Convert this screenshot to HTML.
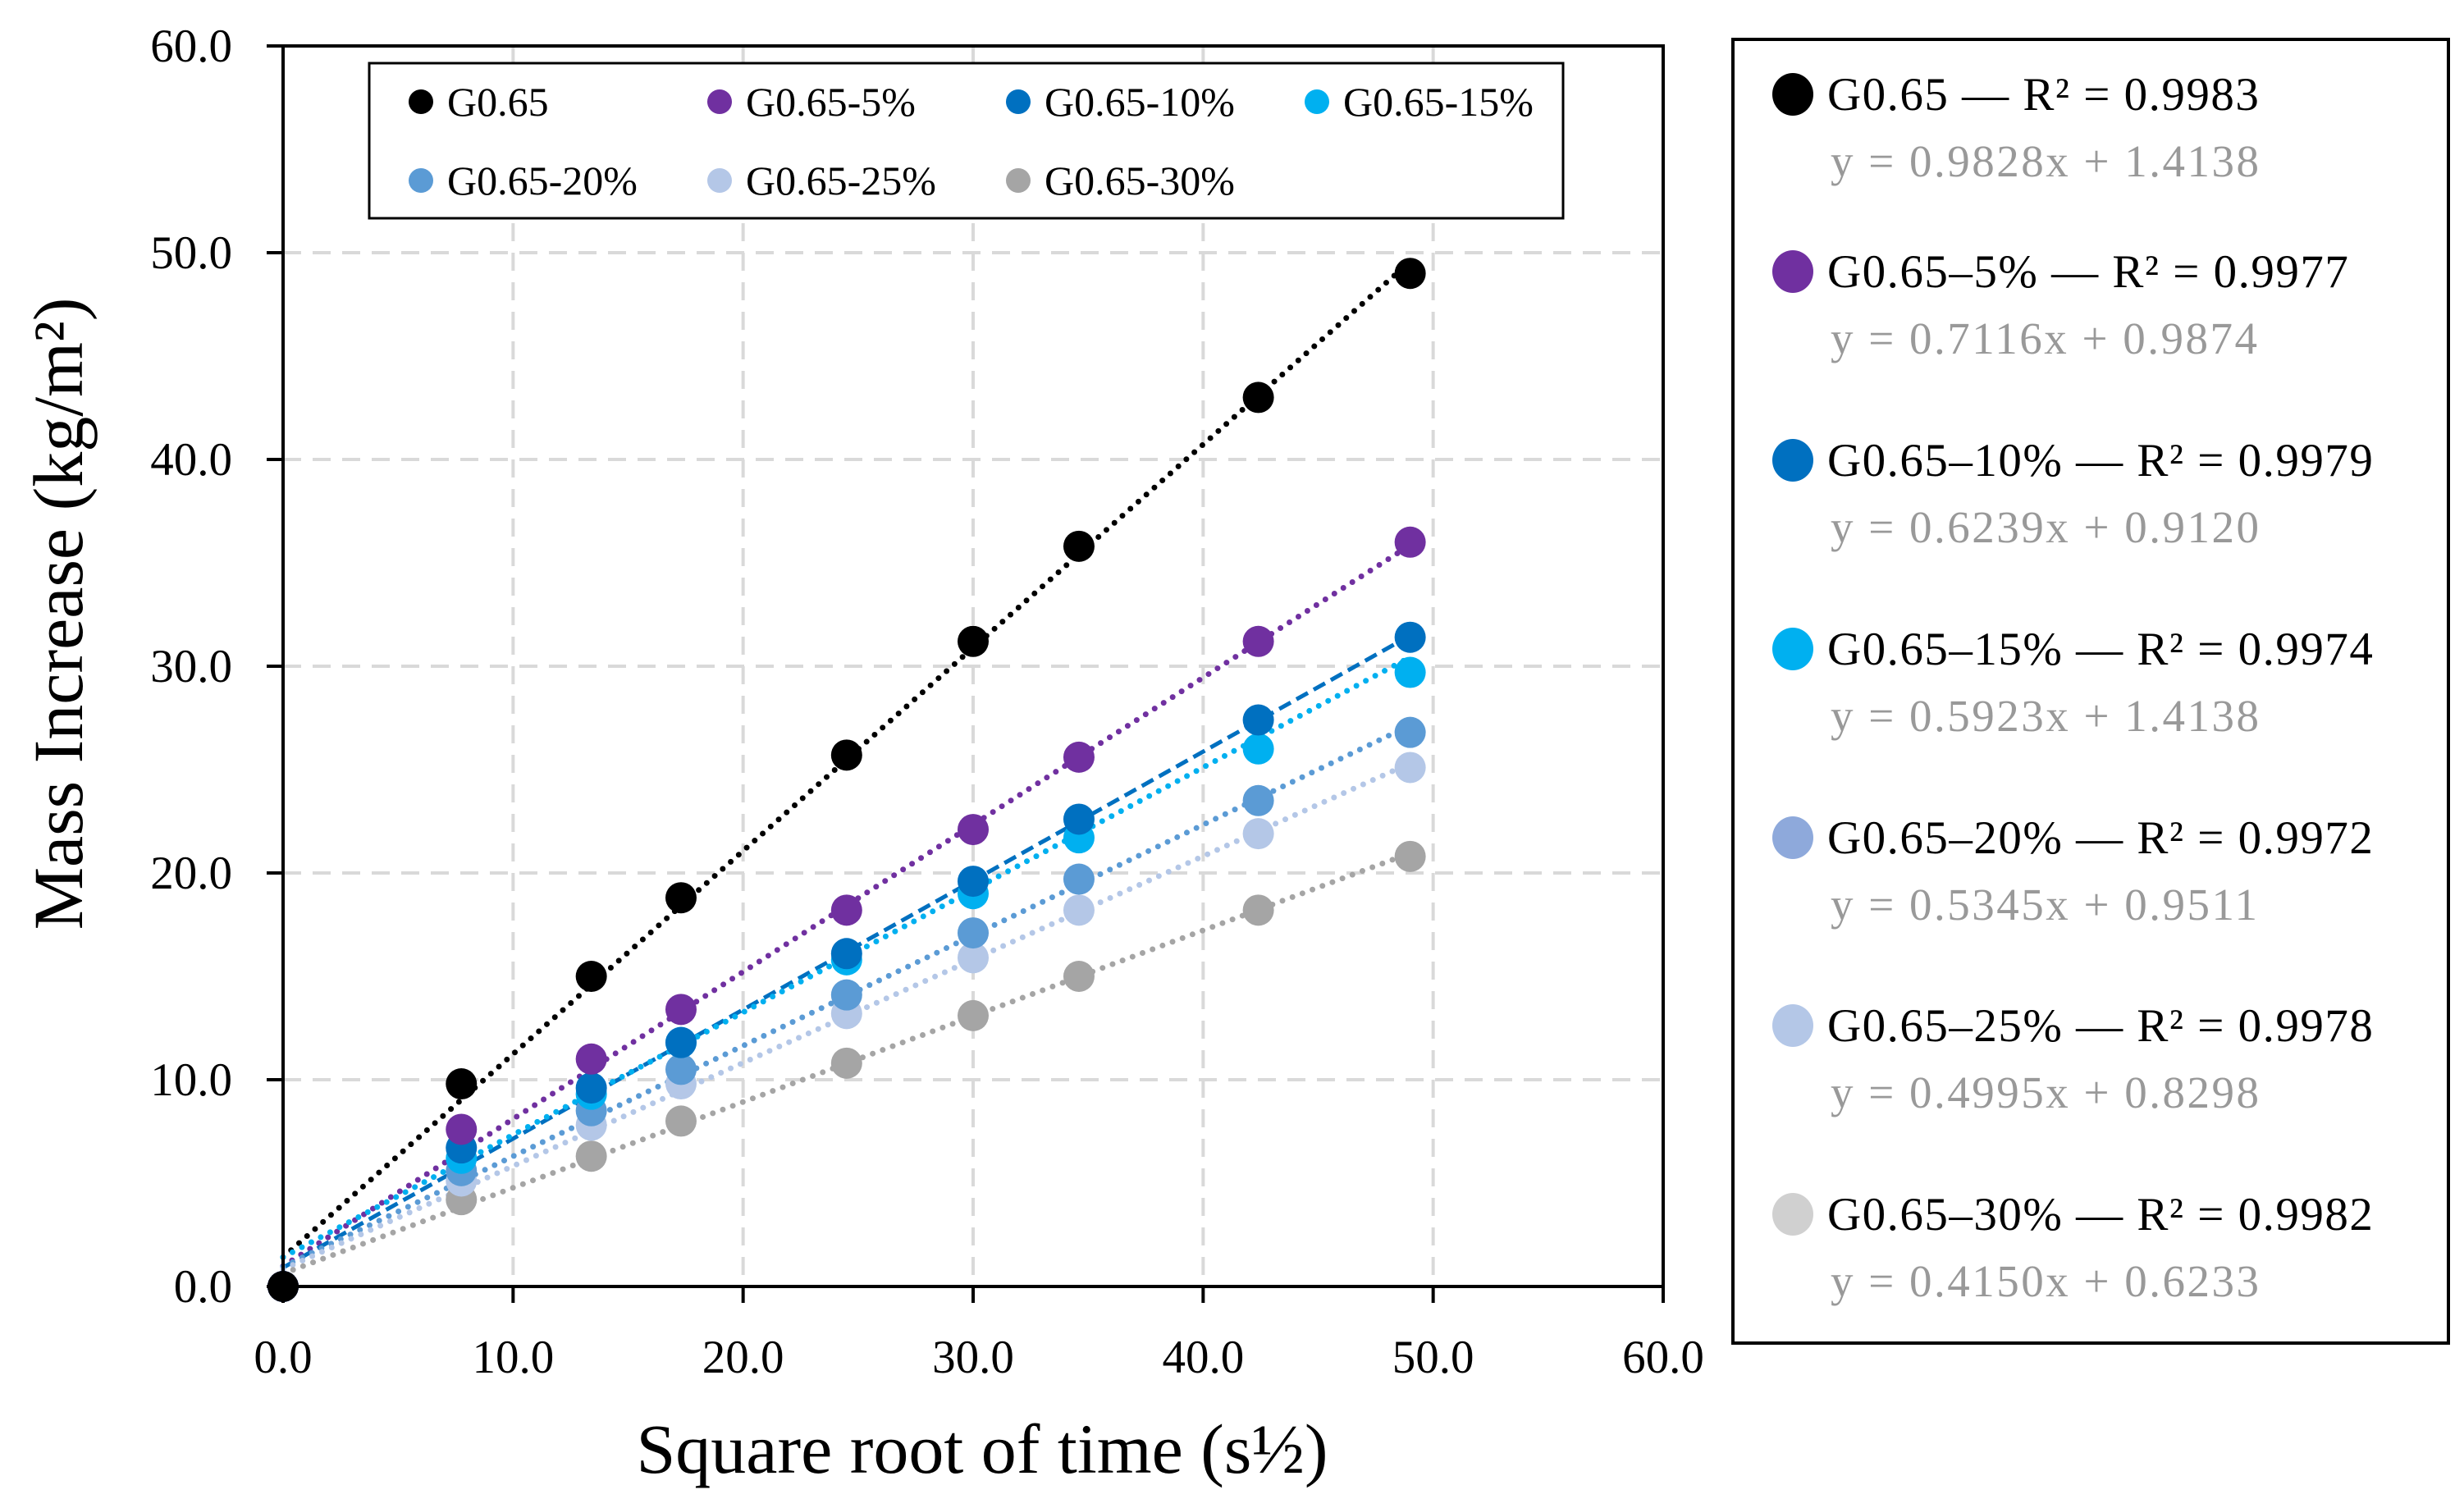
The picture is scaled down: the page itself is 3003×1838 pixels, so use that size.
<!DOCTYPE html>
<html><head><meta charset="utf-8"><style>
html,body{margin:0;padding:0;background:#fff;}
svg{display:block;font-family:"Liberation Serif",serif;}
</style></head><body>
<svg id="chart" width="3003" height="1838" viewBox="0 0 3003 1838" xmlns="http://www.w3.org/2000/svg">
<g id="grid"></g>
<g id="lines"></g>
<g id="points"></g>
<g id="axes"></g>
<text x="1197" y="1795" font-size="86" text-anchor="middle">Square root of time (s½)</text>
<text transform="translate(100,748) rotate(-90)" font-size="86" text-anchor="middle">Mass Increase (kg/m²)</text>
<g id="inlegend"></g>
<g id="rlegend"></g>
</svg>
<script>
const xValues = [0, 7.75, 13.4, 17.3, 24.5, 30.0, 34.6, 42.4, 49.0];
const seriesNames = ["G0.65","G0.65-5%","G0.65-10%","G0.65-15%","G0.65-20%","G0.65-25%","G0.65-30%"];
const sG065 = [0, 9.8, 15.0, 18.8, 25.7, 31.2, 35.8, 43.0, 49.0];
const sG5 = [0, 7.6, 11.0, 13.4, 18.2, 22.1, 25.6, 31.2, 36.0];
const sG10 = [0, 6.7, 9.6, 11.8, 16.1, 19.6, 22.6, 27.4, 31.4];
const sG15 = [0, 6.2, 9.3, 11.8, 15.8, 19.0, 21.7, 26.0, 29.7];
const sG20 = [0, 5.6, 8.5, 10.5, 14.1, 17.1, 19.7, 23.5, 26.8];
const sG25 = [0, 5.1, 7.8, 9.8, 13.2, 15.9, 18.2, 21.9, 25.1];
const sG30 = [0, 4.2, 6.3, 8.0, 10.8, 13.1, 15.0, 18.2, 20.8];
const slopes = [0.9828, 0.7116, 0.6239, 0.5923, 0.5345, 0.4995, 0.4150];
const intercepts = [1.4138, 0.9874, 0.9120, 1.4138, 0.9511, 0.8298, 0.6233];
const r2 = ["0.9983","0.9977","0.9979","0.9974","0.9972","0.9978","0.9982"];
const xTicks = [0,10,20,30,40,50,60];
const yTicks = [0,10,20,30,40,50,60];
const xTickLabels = ["0.0","10.0","20.0","30.0","40.0","50.0","60.0"];
const yTickLabels = ["0.0","10.0","20.0","30.0","40.0","50.0","60.0"];

const series = [sG065,sG5,sG10,sG15,sG20,sG25,sG30];
const colors = ["#000000","#7030A0","#0070C0","#00B0F0","#5B9BD5","#B4C7E7","#A5A5A5"];
const rColors = ["#000000","#7030A0","#0070C0","#00B0F0","#8EA9DB","#B4C7E7","#D0D0D0"];
const L=345,R=2027,T=56,B=1568;
const X=v=>L+(v-0)/(60-0)*(R-L);
const Y=v=>B-(v-0)/(60-0)*(B-T);
const NS="http://www.w3.org/2000/svg";
function mk(tag,attrs,parent,text){const e=document.createElementNS(NS,tag);for(const k in attrs)e.setAttribute(k,attrs[k]);if(text!==undefined)e.textContent=text;parent.appendChild(e);return e;}
const grid=document.getElementById('grid'),axes=document.getElementById('axes'),lines=document.getElementById('lines'),pts=document.getElementById('points');
xTicks.forEach((t,i)=>{
  if(t>0&&t<60){const g=mk('line',{x1:X(t),x2:X(t),y1:T,y2:B,stroke:'#d9d9d9','stroke-width':4,'stroke-dasharray':'22 14'},grid);
  
  }
  const tk=mk('line',{x1:X(t),x2:X(t),y1:B,y2:B+20,stroke:'#000','stroke-width':4},axes);
  
  
  const lb=mk('text',{x:X(t),y:B+105,'font-size':57,'text-anchor':'middle'},axes,xTickLabels[i]);
  
  
});
yTicks.forEach((t,i)=>{
  if(t>0&&t<60){const g=mk('line',{x1:L,x2:R,y1:Y(t),y2:Y(t),stroke:'#d9d9d9','stroke-width':4,'stroke-dasharray':'22 14'},grid);
  
  }
  const tk=mk('line',{x1:L-20,x2:L,y1:Y(t),y2:Y(t),stroke:'#000','stroke-width':4},axes);
  
  
  const lb=mk('text',{x:L-62,y:Y(t)+19,'font-size':57,'text-anchor':'end'},axes,yTickLabels[i]);
  
  
});
const frame=mk('rect',{x:L,y:T,width:R-L,height:B-T,fill:'none',stroke:'#000','stroke-width':4},axes);


series.forEach((s,i)=>{
  const x0=0,x1=xValues[xValues.length-1];
  const ln=mk('line',{x1:X(x0),y1:Y(slopes[i]*x0+intercepts[i]),x2:X(x1),y2:Y(slopes[i]*x1+intercepts[i]),stroke:colors[i],'stroke-width':i===2?5:7,'stroke-linecap':i===2?'butt':'round','stroke-dasharray':i===2?'16 8':'0 13'},lines);
  
  
});
for(let i=series.length-1;i>=0;i--){
  series[i].forEach((v,j)=>{
    const c=mk('circle',{cx:X(xValues[j]),cy:Y(v),r:19,fill:colors[i]},pts);
    
    
  });
}
const il=document.getElementById('inlegend');
const ib=mk('rect',{x:450,y:77,width:1455,height:189,fill:'#fff',stroke:'#000','stroke-width':3},il);


const colX=[513,877,1241,1605],rowY=[124,220];
seriesNames.forEach((n,i)=>{
  const cx=colX[i%4],cy=rowY[Math.floor(i/4)];
  const g=mk('g',{},il);
  
  
  mk('circle',{cx:cx,cy:cy,r:15,fill:colors[i]},g);
  mk('text',{x:cx+32,y:cy+17,'font-size':50},g,n);
});
const rl=document.getElementById('rlegend');
const rb=mk('rect',{x:2112,y:48,width:872,height:1589,fill:'#fff',stroke:'#000','stroke-width':4},rl);


const rRows=[115,331,561,791,1021,1250,1480];
seriesNames.forEach((n,i)=>{
  const y=rRows[i];
  const g=mk('g',{},rl);
  
  
  mk('ellipse',{cx:2185,cy:y,rx:25,ry:26,fill:rColors[i]},g);
  const label=i===0?n:n.replace('-','–');
  mk('text',{x:2227,y:y+19,'font-size':57,'letter-spacing':1.5},g,label+' — R² = '+r2[i]);
  mk('text',{x:2231,y:y+100,'font-size':55,'letter-spacing':2.5,fill:'#999999'},g,'y = '+slopes[i].toFixed(4)+'x + '+intercepts[i].toFixed(4));
});
</script>
</body></html>
